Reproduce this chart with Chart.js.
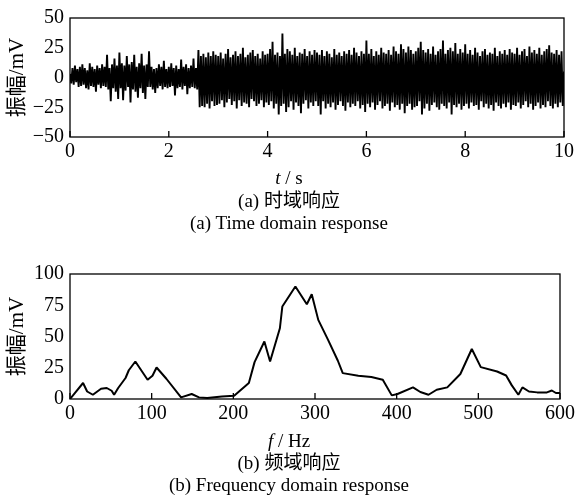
<!DOCTYPE html>
<html>
<head>
<meta charset="utf-8">
<script src="https://cdn.jsdelivr.net/npm/chart.js"></script>
<style>
  html, body { margin: 0; padding: 0; background: #fff; }
  body { width: 578px; height: 503px; position: relative; overflow: hidden; }
  .box { position: absolute; left: 0; width: 578px; }
  .cap {
    position: absolute; left: 0; width: 578px; text-align: center;
    font-family: 'Liberation Serif', 'Noto Sans CJK SC', serif;
    font-size: 19px; line-height: 22px; color: #000; white-space: nowrap;
  }
</style>
</head>
<body>
<div class="box" style="top:0;height:170px"><canvas id="timeChart"></canvas></div>
<div class="box" style="top:255px;height:180px"><canvas id="freqChart"></canvas></div>

<div class="cap" style="top:167px"><i>t</i> / s</div>
<div class="cap" style="top:190px">(a) 时域响应</div>
<div class="cap" style="top:212px">(a) Time domain response</div>

<div class="cap" style="top:430px"><i>f</i> / Hz</div>
<div class="cap" style="top:452px">(b) 频域响应</div>
<div class="cap" style="top:474px">(b) Frequency domain response</div>

<script>
// Ticks
const timeTicks = [0, 2, 4, 6, 8, 10];
const timeAmpTicks = [-50, -25, 0, 25, 50];
const freqTicks = [0, 100, 200, 300, 400, 500, 600];
const freqAmpTicks = [0, 25, 50, 75, 100];

// Time domain signal, one sample every 0.025 s (one line = one second)
const sampleStep = 0.025;
const timeSignal = [
  3,-5,8,-6,10,-4,7,-8,9,-7,11,-6,8,-9,6,-10,12,-7,9,-8,7,-12,10,-6,8,-9,11,-7,9,-8,19,-10,8,-20,11,-9,16,-12,10,-18,
  21,-9,12,-19,10,-11,18,-8,11,-21,13,-10,19,-12,9,-17,12,-9,20,-13,10,-18,11,-8,22,-8,9,-10,7,-13,8,-9,11,-7,9,-10,14,-8,7,-9,
  9,-8,12,-7,8,-15,10,-9,7,-8,15,-10,9,-7,11,-14,8,-9,10,-8,16,-9,8,-10,23,-25,18,-24,20,-25,17,-22,21,-26,18,-20,22,-24,19,-23,
  18,-22,21,-19,16,-25,20,-21,24,-18,17,-23,19,-20,22,-26,18,-19,20,-24,25,-21,17,-22,19,-25,21,-18,23,-20,18,-24,20,-22,16,-19,22,-25,19,-21,
  20,-23,24,-20,30,-26,19,-22,21,-31,18,-24,37,-22,20,-29,24,-25,22,-20,19,-27,25,-21,18,-24,21,-30,20,-22,24,-19,18,-26,22,-21,19,-24,23,-20,
  21,-24,19,-31,23,-20,18,-26,22,-22,20,-25,17,-21,24,-27,19,-23,21,-20,18,-24,22,-28,20,-21,23,-25,19,-22,25,-24,21,-20,18,-26,22,-23,20,-29,
  31,-22,20,-25,24,-21,18,-27,22,-23,19,-20,25,-26,21,-24,20,-22,23,-28,19,-21,26,-25,22,-23,20,-27,28,-22,24,-30,21,-24,26,-22,23,-27,20,-25,
  22,-24,25,-20,30,-31,23,-26,21,-22,24,-28,20,-23,26,-21,19,-25,22,-27,24,-22,31,-24,20,-26,23,-21,25,-31,22,-23,29,-25,20,-22,24,-27,21,-24,
  28,-22,20,-26,23,-21,19,-24,25,-23,21,-27,18,-20,22,-25,24,-22,19,-26,21,-23,20,-28,25,-21,18,-24,22,-26,20,-22,23,-25,19,-21,24,-27,21,-23,
  20,-24,25,-21,19,-26,22,-23,24,-20,18,-25,26,-22,21,-27,23,-24,20,-21,25,-26,19,-23,22,-25,24,-20,27,-24,21,-26,20,-22,23,-25,19,-21,22,-24,
  5
];

// Frequency domain response
const freqHz = [0, 16, 21, 28, 38, 45, 51, 54, 59, 68, 72, 80, 95, 101, 106, 118, 136, 149, 158, 168, 186, 201,
  219, 226, 238, 245, 257, 260, 276, 290, 296, 304, 316, 328, 334, 353, 369, 383, 394, 401, 420, 429, 439,
  449, 462, 478, 492, 503, 523, 534, 541, 549, 554, 562, 572, 584, 590, 595, 600];
const freqAmp = [0, 12.8, 6, 3.4, 8.2, 8.8, 6.6, 3.4, 8.8, 16.8, 23, 30, 15.4, 18.6, 25.2, 16.2, 1.3, 4, 1.3, 0.8, 2, 2.6,
  12.8, 29.5, 46, 30, 56.6, 74, 90, 75.8, 83.8, 63.3, 47.3, 30.6, 20.7, 18.6, 17.6, 15.4, 2.9, 4, 9.3, 5.6, 3.4,
  7.4, 9.3, 20, 40, 25.5, 22, 18.8, 10.9, 3.4, 9.3, 6, 5.3, 5.3, 6.8, 4.8, 4.8];

const serif = "'Liberation Serif', 'Noto Sans CJK SC', serif";

// Frame box + inward ticks on the bottom axis
const framePlugin = {
  id: 'frame',
  afterDraw(chart) {
    const { ctx, chartArea: a } = chart;
    const x = chart.scales.x;
    ctx.save();
    ctx.strokeStyle = '#000';
    ctx.lineWidth = 1.3;
    ctx.strokeRect(a.left, a.top, a.right - a.left, a.bottom - a.top);
    ctx.beginPath();
    x.ticks.forEach(t => {
      const px = x.getPixelForValue(t.value);
      ctx.moveTo(px, a.bottom);
      ctx.lineTo(px, a.bottom - 6);
    });
    ctx.stroke();
    ctx.restore();
  }
};

function minus(v) {
  return v < 0 ? '\u2212' + Math.abs(v) : String(v);
}

function makeChart(id, points, xTicks, yTicks, lineWidth, pad, xAxisHeight) {
  const ctx = document.getElementById(id).getContext('2d');
  return new Chart(ctx, {
    type: 'line',
    data: {
      datasets: [{
        data: points,
        borderColor: '#000',
        borderWidth: lineWidth,
        borderJoinStyle: 'bevel',
        pointRadius: 0,
        tension: 0,
        fill: false
      }]
    },
    options: {
      responsive: true,
      maintainAspectRatio: false,
      animation: false,
      layout: { padding: pad },
      plugins: { legend: { display: false }, tooltip: { enabled: false } },
      scales: {
        x: {
          type: 'linear',
          min: xTicks[0],
          max: xTicks[xTicks.length - 1],
          grid: { display: false, drawTicks: false },
          border: { display: false },
          afterBuildTicks: s => { s.ticks = xTicks.map(v => ({ value: v })); },
          afterFit: s => { s.height = xAxisHeight; },
          ticks: {
            color: '#000', padding: 3, maxRotation: 0,
            font: { family: serif, size: 20 }
          }
        },
        y: {
          min: yTicks[0],
          max: yTicks[yTicks.length - 1],
          grid: { display: false, drawTicks: false },
          border: { display: false },
          afterBuildTicks: s => { s.ticks = yTicks.map(v => ({ value: v })); },
          afterFit: s => { s.width = 70; },
          ticks: {
            color: '#000', padding: 6,
            font: { family: serif, size: 20 },
            callback: v => minus(v)
          },
          title: {
            display: true,
            text: '振幅/mV',
            color: '#000',
            padding: { top: 5, bottom: 0 },
            font: { family: serif, size: 21 }
          }
        }
      }
    },
    plugins: [framePlugin]
  });
}

const timePoints = timeSignal.map((v, i) => ({ x: i * sampleStep, y: v }));
const freqPoints = freqHz.map((f, i) => ({ x: f, y: freqAmp[i] }));

makeChart('timeChart', timePoints, timeTicks, timeAmpTicks, 1.9, { top: 12, right: 14, left: 0, bottom: 0 }, 33);
makeChart('freqChart', freqPoints, freqTicks, freqAmpTicks, 2, { top: 19, right: 14.5, left: 0, bottom: 0 }, 36);
</script>
</body>
</html>
